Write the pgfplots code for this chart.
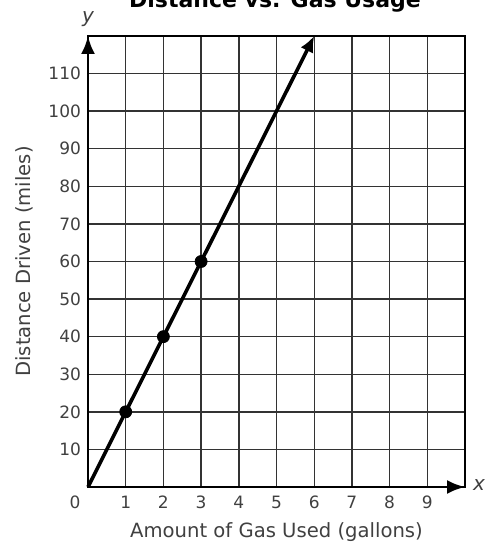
\documentclass[border=0pt]{standalone}
\usepackage{pgfplots}
\pgfplotsset{compat=1.18}
\usepackage{fontspec}
\setmainfont{DejaVu Sans}
\usetikzlibrary{arrows.meta}
\definecolor{txt}{gray}{0.25}
\begin{document}
\begin{tikzpicture}
\begin{axis}[
  name=ax,
  scale only axis,
  width=188.5pt, height=225.5pt,
  xmin=0, xmax=10, ymin=0, ymax=120,
  xtick={1,...,9}, ytick={10,20,...,110},
  grid=major,
  major grid style={line width=0.7pt, color=black!80},
  major tick length=0pt,
  axis line style={line width=1.2pt},
  clip=false,
  /pgf/number format/assume math mode=true,
  ticklabel style={font=\fontsize{8.5}{9}\selectfont, text=txt},
  xticklabel style={yshift=-1pt},
  xlabel={Amount of Gas Used (gallons)},
  ylabel={Distance Driven (miles)},
  label style={font=\fontsize{9.8}{11}\selectfont, text=txt},
  ylabel style={yshift=1pt},
]
% data
\addplot[line width=1.8pt, -{Latex[length=8pt,width=7pt]}] coordinates {(0,0) (6,120)};
\addplot[only marks, mark=*, mark size=3pt, black] coordinates {(1,20) (2,40) (3,60)};
% axis arrows
\draw[line width=1.4pt, -{Latex[length=9pt,width=7pt]}] (axis cs:0,0) -- (axis cs:10,0);
\draw[line width=1.4pt, -{Latex[length=9pt,width=7pt]}] (axis cs:0,0) -- (axis cs:0,120);
\node[font=\fontsize{8.5}{9}\selectfont, text=txt] at ([shift={(-6.5pt,-7.5pt)}]axis cs:0,0) {0};
\node[font=\itshape\fontsize{10}{11}\selectfont, text=txt] at ([shift={(7pt,1pt)}]axis cs:10,0) {x};
\node[font=\itshape\fontsize{10}{11}\selectfont, text=txt] at ([shift={(0pt,8.5pt)}]axis cs:0,120) {y};
\node[font=\bfseries\fontsize{11}{12}\selectfont, anchor=base] at ([shift={(93.5pt,239.5pt)}]axis cs:0,0) {Distance vs. Gas Usage};
\end{axis}
\pgfresetboundingbox
\useasboundingbox ([shift={(-44pt,-31.5pt)}]ax.south west) rectangle ([shift={(201pt,243.5pt)}]ax.south west);
\end{tikzpicture}
\end{document}
